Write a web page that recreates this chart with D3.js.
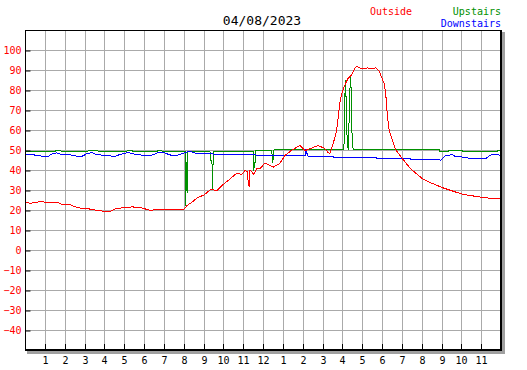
<!DOCTYPE html>
<html>
<head>
<meta charset="utf-8">
<script src="https://cdn.jsdelivr.net/npm/d3@7"></script>
<style>
body { margin: 0; background: #fff; }
text { font-family: "DejaVu Sans Mono", monospace; }
</style>
</head>
<body>
<svg width="527" height="370"></svg>
<script>
var dateLabel = "04/08/2023";
var hourLabels = [1, 2, 3, 4, 5, 6, 7, 8, 9, 10, 11, 12, 1, 2, 3, 4, 5, 6, 7, 8, 9, 10, 11];
var tempTicks = [-40, -30, -20, -10, 0, 10, 20, 30, 40, 50, 60, 70, 80, 90, 100];

// [hour of day, temperature]
var outside = [[0,24],[0.3,23.6],[0.4,24],[0.9,24.5],[1,24],[1.65,24],[1.85,23],[2.25,23],[2.45,22],
  [2.9,20.8],[3.2,20.8],[3.75,19.8],[4.25,19.5],[4.5,20.7],[4.85,21.3],[5.4,21.8],[5.9,21.2],[6.3,20],
  [6.6,20.5],[7.3,20.5],[7.75,20.3],[8,20.8],[8.15,22.5],[8.4,24.2],[8.65,26.3],[9,27.8],[9.32,30.3],
  [9.49,30.3],[9.65,30],[10,33.3],[10.32,35.8],[10.65,38.7],[10.9,38],[11.07,40],[11.17,39.5],
  [11.24,33.3],[11.29,31.7],[11.32,40.3],[11.52,38],[11.65,40.8],[11.82,40.8],[12.07,43.7],[12.24,43],
  [12.49,41.7],[12.82,43.5],[13.08,47.5],[13.4,50],[13.84,52.5],[14.09,50],[14.25,50.5],[14.75,52.5],
  [15.09,51],[15.25,49],[15.34,48.5],[15.5,53],[15.67,59.2],[15.75,65],[15.83,72.5],[15.92,77.5],
  [16.09,82.5],[16.25,85.8],[16.42,87.5],[16.59,90.8],[16.7,92.2],[16.84,91.3],[17.09,90.8],[17.25,91.3],
  [17.42,90.8],[17.67,91.3],[17.84,89.7],[17.92,87.5],[18.09,83.3],[18.17,77.5],[18.25,66.7],[18.34,60],
  [18.5,55],[18.67,50.3],[19,46],[19.4,41],[20,36],[20.4,34],[21,31.5],[21.6,29.5],[22.1,28],[22.75,27],
  [23.5,26],[23.8,25.8],[24,26.3]];

var upstairs = [[0,49.7],[1.5,49.7],[1.55,50.2],[1.75,50.2],[1.8,49.7],[3.15,49.7],[3.2,50.2],[3.6,50.2],
  [3.65,49.7],[5.1,49.7],[5.15,50.2],[5.35,50.2],[5.4,49.7],[6.65,49.7],[6.7,50.2],[6.85,50.2],[6.9,49.7],
  [8.05,49.6],[8.08,22.5],[8.12,44],[8.15,29],[8.18,49.6],[9.3,49.6],[9.33,45],[9.4,45],[9.43,31],
  [9.47,49.6],[11.48,49.6],[11.51,40],[11.55,44],[11.59,44],[11.62,50.2],[12.42,50.2],[12.45,44],
  [12.5,46.5],[12.53,50.3],[16.05,50.3],[16.08,59],[16.12,85],[16.16,77],[16.2,59],[16.27,50.3],
  [16.3,59],[16.35,79],[16.4,87.5],[16.46,59],[16.52,50.3],[20.89,50.3],[20.9,49.5],[21.34,49.5],
  [21.35,50],[22.02,50],[22.03,49.5],[23.78,49.5],[23.8,50],[23.97,50],[24,49.5]];

var downstairs = [[0,47.8],[0.42,47.8],[0.92,47],[1.17,47.2],[1.33,48.3],[1.58,48.8],[1.83,48],[2.25,47.8],
  [2.58,47.2],[2.83,47],[3.08,48.3],[3.33,49],[3.58,48],[4.25,47.3],[4.5,47],[4.75,48],[5.17,49],[5.58,48],
  [6.08,47.5],[6.42,47.8],[6.75,49.2],[7,49],[7.25,47.8],[7.58,47.5],[7.95,48.5],[8.23,49.7],[8.65,48.5],
  [9.3,48.5],[9.65,48],[11.6,48],[11.65,47.5],[14.1,47.5],[14.13,50],[14.25,47.2],[15.5,47.2],[15.55,46.5],
  [17.7,46.3],[17.75,45.8],[20.83,45.7],[20.92,45],[21.17,47.3],[21.5,48],[21.67,47],[22.08,46.7],
  [22.5,45.8],[23.17,45.8],[23.5,48],[23.83,48],[24,47.3]];

var svg = d3.select("svg");

var plotLeft = 25, plotRight = 501, plotTop = 30, plotBottom = 350;
var x = d3.scaleLinear().domain([0, 24]).range([plotLeft, plotRight]);
var y = d3.scaleLinear().domain([-50, 110]).range([plotBottom, plotTop]);

// drop shadow + plot background
svg.append("rect").attr("x", plotLeft + 2).attr("y", plotTop + 2)
    .attr("width", plotRight - plotLeft + 2).attr("height", plotBottom - plotTop + 2).attr("fill", "#a0a0a0");
svg.append("rect").attr("x", plotLeft).attr("y", plotTop)
    .attr("width", plotRight - plotLeft).attr("height", plotBottom - plotTop).attr("fill", "#fff");

var grid = svg.append("g").attr("stroke", "#aaa").attr("shape-rendering", "crispEdges");
grid.selectAll(".v").data(d3.range(1, 24)).enter().append("line")
    .attr("x1", function(d) { return Math.round(x(d)) + 0.5; })
    .attr("x2", function(d) { return Math.round(x(d)) + 0.5; })
    .attr("y1", plotTop).attr("y2", plotBottom);
grid.selectAll(".h").data(tempTicks).enter().append("line")
    .attr("x1", plotLeft).attr("x2", plotRight)
    .attr("y1", function(d) { return y(d) + 0.5; })
    .attr("y2", function(d) { return y(d) + 0.5; });

svg.append("clipPath").attr("id", "plot")
  .append("rect").attr("x", plotLeft).attr("y", plotTop)
    .attr("width", plotRight - plotLeft).attr("height", plotBottom - plotTop);

var line = d3.line()
    .x(function(d) { return x(d[0]) + 0.5; })
    .y(function(d) { return y(d[1]) + 0.5; });

var series = [[upstairs, "#009000"], [downstairs, "#0000ff"], [outside, "#ff0000"]];
svg.append("g").attr("clip-path", "url(#plot)")
  .selectAll("path").data(series).enter().append("path")
    .attr("d", function(d) { return line(d[0]); })
    .attr("fill", "none")
    .attr("stroke", function(d) { return d[1]; })
    .attr("stroke-width", 1)
    .attr("shape-rendering", "crispEdges");

// frame
var frame = svg.append("g").attr("stroke", "#000").attr("shape-rendering", "crispEdges");
frame.append("line").attr("x1", plotLeft).attr("x2", plotRight + 1).attr("y1", plotTop + 0.5).attr("y2", plotTop + 0.5);
frame.append("line").attr("x1", plotLeft + 0.5).attr("x2", plotLeft + 0.5).attr("y1", plotTop).attr("y2", plotBottom + 1);
frame.append("line").attr("x1", plotLeft).attr("x2", plotRight + 1).attr("y1", plotBottom).attr("y2", plotBottom)
    .attr("stroke-width", 2);
frame.append("line").attr("x1", plotRight).attr("x2", plotRight).attr("y1", plotTop).attr("y2", plotBottom + 1)
    .attr("stroke-width", 2);

var yAxis = d3.axisLeft(y).tickValues(tempTicks).tickSizeInner(-5).tickSizeOuter(0).tickPadding(4);
var gy = svg.append("g").attr("transform", "translate(25.5,0.5)").call(yAxis);
gy.select(".domain").remove();
gy.selectAll("line").attr("stroke", "#000");
gy.selectAll("text").attr("fill", "#ff0000").attr("font-size", 10)
    .attr("font-family", "DejaVu Sans Mono, monospace");

var xAxis = d3.axisBottom(x).tickValues(d3.range(1, 24)).tickSizeInner(-5).tickSizeOuter(0).tickPadding(8)
    .tickFormat(function(d) { return hourLabels[d - 1]; });
var gx = svg.append("g").attr("transform", "translate(0,349)").call(xAxis);
gx.select(".domain").remove();
gx.selectAll(".tick").attr("transform", function(d) { return "translate(" + (Math.round(x(d)) + 0.5) + ",0)"; });
gx.selectAll("line").attr("stroke", "#000");
gx.selectAll("text").attr("fill", "#000").attr("font-size", 10)
    .attr("font-family", "DejaVu Sans Mono, monospace");

svg.append("text").attr("x", 262).attr("y", 25).attr("text-anchor", "middle")
    .attr("font-size", 13).attr("fill", "#000").text(dateLabel);

svg.append("text").attr("x", 370).attr("y", 15).attr("font-size", 10).attr("fill", "#ff0000").text("Outside");
svg.append("text").attr("x", 501).attr("y", 15).attr("text-anchor", "end")
    .attr("font-size", 10).attr("fill", "#009000").text("Upstairs");
svg.append("text").attr("x", 501).attr("y", 27).attr("text-anchor", "end")
    .attr("font-size", 10).attr("fill", "#0000ff").text("Downstairs");
</script>
</body>
</html>
